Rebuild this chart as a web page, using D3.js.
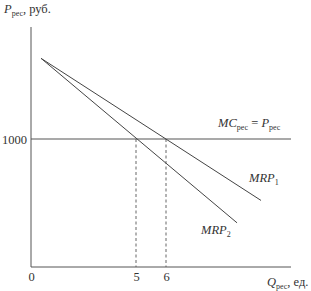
<!DOCTYPE html>
<head>
    <meta charset="utf-8">
    <title>MRP</title>
    <style>
        body { margin: 0; background: #fff; }
        text { font-family: "Liberation Serif", "DejaVu Serif", serif; fill: #333; }
        .axis path { stroke: #555; }
        .axis text { font-size: 12.5px; fill: #333; }
    </style>
</head>
<body>
    <script src="https://d3js.org/d3.v7.min.js"></script>
    <script>

        // quantity ticks, price level and the two MRP curves (endpoints)
        var qTicks = [0, 5, 6];
        var pLevel = 1000;
        var mrp1 = [{ q: 0.48, p: 1630 }, { q: 9.17, p: 520 }];
        var mrp2 = [{ q: 0.48, p: 1630 }, { q: 8.37, p: 345 }];
        var dashQ = [5, 6];

        var width = 311, height = 291;

        // schematic chart: axis is not to scale near origin
        var x = d3.scaleLinear()
            .domain([0, 5, 6, 10.17])
            .range([31, 136, 166, 291]);

        var y = d3.scaleLinear()
            .domain([0, 1875])
            .range([267, 27]);

        var svg = d3.select('body').append('svg')
            .attr('width', width)
            .attr('height', height);

        var xAxis = d3.axisBottom(x).tickValues(qTicks).tickSize(0).tickPadding(5).tickFormat(d3.format('d'));
        var yAxis = d3.axisLeft(y).tickValues([pLevel]).tickSize(0).tickPadding(4).tickFormat(d3.format('d'));

        svg.append('g')
            .attr('class', 'x axis')
            .attr('transform', 'translate(0,' + y(0) + ')')
            .call(xAxis)
            .attr('font-family', null).attr('font-size', null)
            .call(g => g.select('.domain').attr('d', 'M' + x(0) + ',0H' + x(10.17)));

        svg.append('g')
            .attr('class', 'y axis')
            .attr('transform', 'translate(' + x(0) + ',0)')
            .call(yAxis)
            .attr('font-family', null).attr('font-size', null)
            .call(g => g.select('.domain').attr('d', 'M0,' + y(1875) + 'V' + y(0)));

        // MC = P line
        svg.append('line')
            .attr('x1', x(0)).attr('x2', x(10.17))
            .attr('y1', y(pLevel)).attr('y2', y(pLevel))
            .attr('stroke', '#555').attr('stroke-width', 1.2);

        // dashed drop lines
        svg.selectAll('.drop')
            .data(dashQ)
            .enter().append('line')
            .attr('class', 'drop')
            .attr('x1', d => x(d)).attr('x2', d => x(d))
            .attr('y1', y(pLevel)).attr('y2', y(0))
            .attr('stroke', '#555').attr('stroke-width', 0.9)
            .attr('stroke-dasharray', '3,2.5');

        var line = d3.line()
            .x(d => x(d.q))
            .y(d => y(d.p));

        svg.selectAll('.mrp')
            .data([mrp1, mrp2])
            .enter().append('path')
            .attr('class', 'mrp')
            .attr('d', line)
            .attr('fill', 'none')
            .attr('stroke', '#444')
            .attr('stroke-width', 1);

        function label(xp, yp, parts) {
            var t = svg.append('text')
                .attr('x', xp).attr('y', yp)
                .style('font-size', '12.5px');
            parts.forEach(function (p) {
                var s = t.append('tspan').text(p.t);
                if (p.i) s.style('font-style', 'italic');
                if (p.sub) s.attr('baseline-shift', '-3').style('font-size', '8px');
            });
            return t;
        }

        label(4, 13, [{ t: 'P', i: 1 }, { t: 'рес', sub: 1 }, { t: ', руб.' }]);
        label(267, 286, [{ t: 'Q', i: 1 }, { t: 'рес', sub: 1 }, { t: ', ед.' }]);
        label(218, 127, [{ t: 'MC', i: 1 }, { t: 'рес', sub: 1 }, { t: ' = ' }, { t: 'P', i: 1 }, { t: 'рес', sub: 1 }]);
        label(249, 182, [{ t: 'MRP', i: 1 }, { t: '1', sub: 1 }]);
        label(201, 234, [{ t: 'MRP', i: 1 }, { t: '2', sub: 1 }]);

    </script>
</body>
